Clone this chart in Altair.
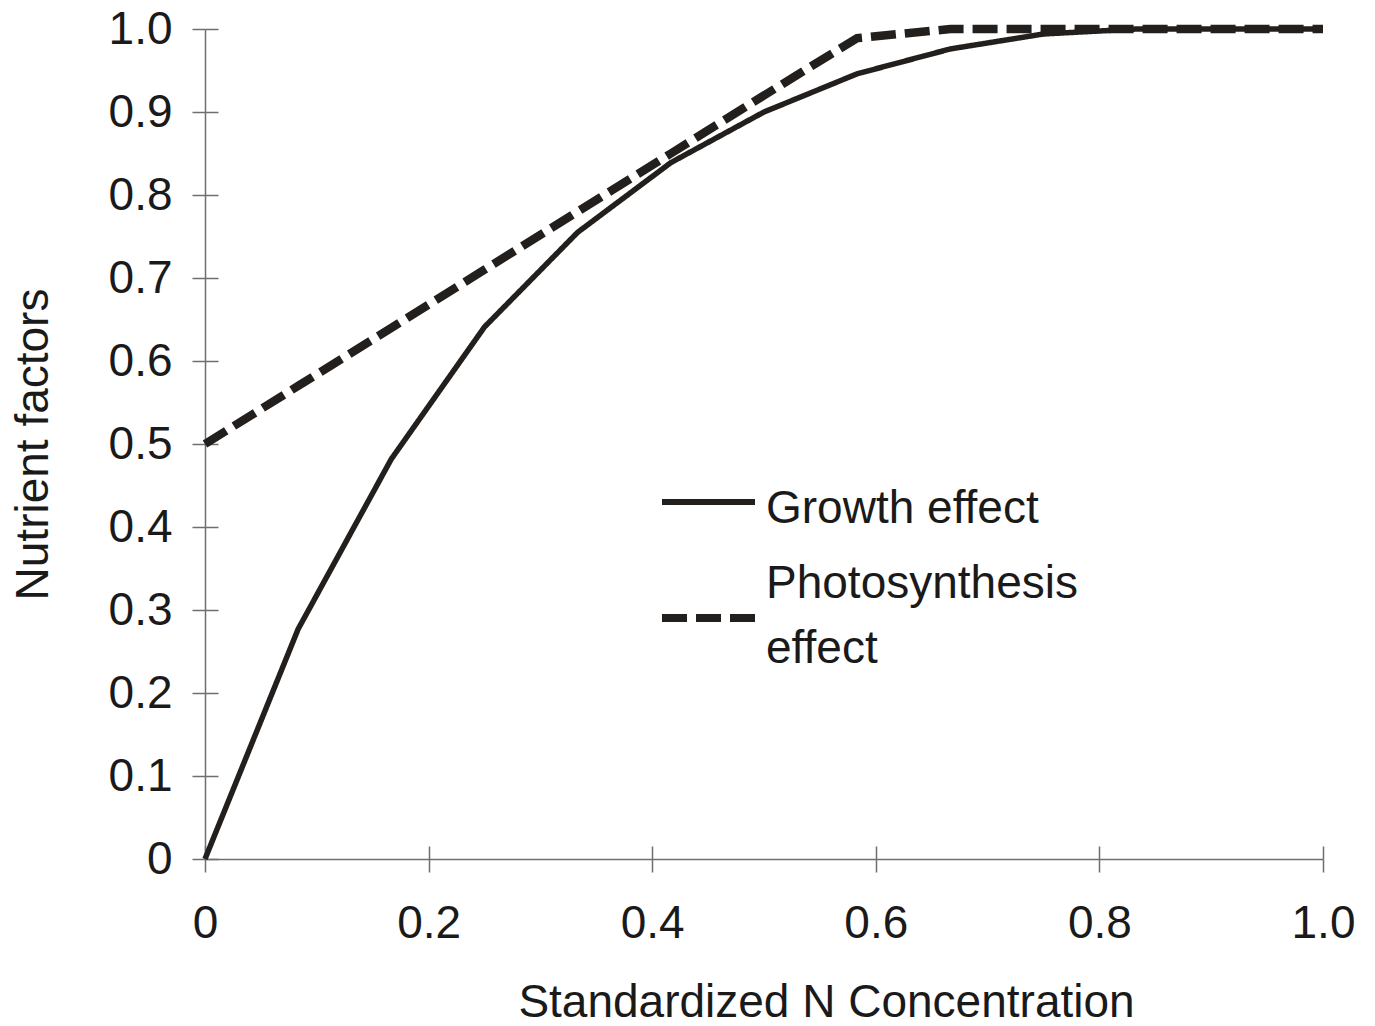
import altair as alt
import pandas as pd

# Standardized N concentration (steps of 1/12)
n_conc = [0.0, 0.0833, 0.1667, 0.25, 0.3333, 0.4167, 0.5, 0.5833, 0.6667, 0.75, 0.8333, 0.9167, 1.0]
growth_effect = [0.0, 0.277, 0.482, 0.641, 0.755, 0.839, 0.900, 0.946, 0.976, 0.994, 1.0, 1.0, 1.0]
photo_effect = [0.5, 0.57, 0.64, 0.71, 0.78, 0.85, 0.92, 0.989, 1.0, 1.0, 1.0, 1.0, 1.0]

series_names = ["Growth effect", "Photosynthesis effect"]
x_ticks = [0.0, 0.2, 0.4, 0.6, 0.8, 1.0]
y_ticks = [0.0, 0.1, 0.2, 0.3, 0.4, 0.5, 0.6, 0.7, 0.8, 0.9, 1.0]

df = pd.DataFrame({
    "conc": n_conc * 2,
    "factor": growth_effect + photo_effect,
    "series": [series_names[0]] * len(n_conc) + [series_names[1]] * len(n_conc),
})

FONT = "Liberation Sans"
INK = "#231f1d"
AXIS_GREY = "#6f6f6f"
W, H = 1118, 830
TICK = 13

# Grid lines are cut down to short dashes next to the axis so that
# every tick crosses its axis line.
x_enc = alt.X(
    "conc:Q",
    scale=alt.Scale(domain=[0, 1], nice=False, zero=False),
    axis=alt.Axis(
        values=x_ticks,
        labelExpr="datum.value == 0 ? '0' : format(datum.value, '.1f')",
        title="Standardized N Concentration",
        titleX=621,
        titleY=121,
        labelPadding=29,
        grid=True,
        gridDash=[0, H - TICK, TICK, 4000],
    ),
)
y_enc = alt.Y(
    "factor:Q",
    scale=alt.Scale(domain=[0, 1], nice=False, zero=False),
    axis=alt.Axis(
        values=y_ticks,
        labelExpr="datum.value == 0 ? '0' : format(datum.value, '.1f')",
        title="Nutrient factors",
        titleX=-148,
        labelPadding=20,
        grid=True,
        gridDash=[TICK, 4000],
    ),
)

lines = alt.Chart(df).mark_line(color=INK, strokeCap="butt", strokeJoin="miter").encode(
    x=x_enc,
    y=y_enc,
    detail="series:N",
    strokeDash=alt.StrokeDash(
        "series:N",
        scale=alt.Scale(domain=series_names, range=[[1, 0], [25, 9]]),
        legend=None,
    ),
    strokeWidth=alt.StrokeWidth(
        "series:N",
        scale=alt.Scale(domain=series_names, range=[5.5, 8.5]),
        legend=None,
    ),
)

# Hand-placed key inside the plot area
key_solid = alt.Chart(pd.DataFrame({"series": [series_names[0]]})).mark_rule(
    color=INK, strokeWidth=6, strokeCap="butt"
).encode(x=alt.value(457), x2=alt.value(550), y=alt.value(473))

key_dash = alt.Chart(pd.DataFrame({"series": [series_names[1]]})).mark_rule(
    color=INK, strokeWidth=8, strokeCap="butt", strokeDash=[25, 9]
).encode(x=alt.value(457), x2=alt.value(550), y=alt.value(589))

key_text_1 = alt.Chart(pd.DataFrame({"label": [series_names[0]]})).mark_text(
    font=FONT, fontSize=46, color="#1a1a1a", align="left", baseline="alphabetic"
).encode(text="label:N", x=alt.value(561), y=alt.value(494))

key_text_2 = alt.Chart(pd.DataFrame({"label": [["Photosynthesis", "effect"]]})).mark_text(
    font=FONT, fontSize=46, color="#1a1a1a", align="left", baseline="alphabetic", lineHeight=65
).encode(text="label", x=alt.value(561), y=alt.value(569))

chart = (
    alt.layer(lines, key_solid, key_dash, key_text_1, key_text_2)
    .properties(
        width=W,
        height=H,
        autosize=alt.AutoSizeParams(type="none"),
        padding={"left": 205, "top": 29, "right": 52, "bottom": 167},
        background="white",
    )
    .configure_view(stroke=None)
    .configure_axis(
        labelFont=FONT,
        labelFontSize=46,
        labelColor="#1a1a1a",
        titleFont=FONT,
        titleFontSize=46,
        titleFontWeight="normal",
        titleColor="#1a1a1a",
        domainColor=AXIS_GREY,
        domainWidth=1.5,
        tickColor=AXIS_GREY,
        tickWidth=1.5,
        tickSize=TICK,
        gridColor=AXIS_GREY,
        gridWidth=1.5,
        gridOpacity=1,
        labelFlush=False,
        labelOverlap=False,
    )
)

chart.save("out.html", embed_options={"renderer": "svg", "actions": False})
